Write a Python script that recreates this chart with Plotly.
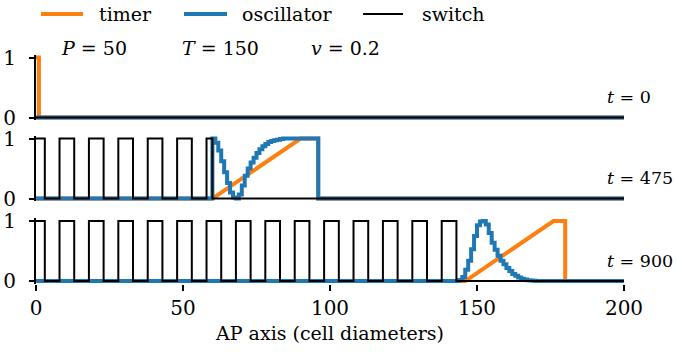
import plotly.graph_objects as go

# ---- data -------------------------------------------------------------
x_max = 200

# timer breakpoints (x, value) for each snapshot
timer_x_0 = [0, 1, 1, 200]
timer_y_0 = [1, 1, 0, 0]
timer_x_475 = [0, 60, 90, 96, 96, 200]
timer_y_475 = [0, 0, 1, 1, 0, 0]
timer_x_900 = [0, 146, 176, 180, 180, 200]
timer_y_900 = [0, 0, 1, 1, 0, 0]

# oscillator: per-cell values starting at a given cell, zero elsewhere
osc_start_475 = 60
osc_475 = [1.0, 0.93, 0.8, 0.62, 0.44, 0.26, 0.1, 0.02, 0.0, 0.07,
           0.22, 0.38, 0.5, 0.6, 0.68, 0.76, 0.82, 0.87, 0.91, 0.94,
           0.96, 0.97, 0.98, 0.99, 1.0, 1.0, 1.0, 1.0, 1.0, 1.0,
           1.0, 1.0, 1.0, 1.0, 1.0, 1.0]
osc_start_900 = 144
osc_900 = [0.02, 0.07, 0.19, 0.34, 0.53, 0.75, 0.93, 0.99, 1.0, 0.94,
           0.8, 0.64, 0.52, 0.42, 0.34, 0.28, 0.22, 0.17, 0.12, 0.09,
           0.06, 0.04, 0.025, 0.015, 0.008, 0.004]

# switch: initial value at x=0 and the positions where it toggles
switch_init_0 = 0
switch_edges_0 = []
switch_init_475 = 1
switch_edges_475 = [3, 8, 13, 18, 23, 28, 33, 38, 43, 48, 53, 58, 60]
switch_init_900 = 1
switch_edges_900 = [3, 8, 13, 18, 23, 28, 33, 38, 43, 48, 53, 58, 63, 68,
                    73, 78, 83, 88, 93, 98, 103, 108, 113, 118, 123, 128,
                    133, 138, 143]

snapshot_labels = ["0", "475", "900"]
param_labels = ["<i>P</i> = 50", "<i>T</i> = 150", "<i>v</i> = 0.2"]
series_names = ["timer", "oscillator", "switch"]
x_ticks = [0, 50, 100, 150, 200]

# ---- helpers ----------------------------------------------------------
ORANGE = "#ff7f0e"
BLUE = "#1f77b4"
BLACK = "#000000"
FONT = "DejaVu Serif"
TICK_SIZE = 20
TEXT_SIZE = 19
TIME_SIZE = 17.5


def switch_path(v0, edges):
    xs, ys, v = [0], [v0], v0
    for e in edges:
        xs += [e, e]
        ys += [v, 1 - v]
        v = 1 - v
    xs.append(x_max)
    ys.append(v)
    return xs, ys


def osc_path(start, vals):
    if not vals:
        return [0, x_max], [0, 0]
    xs = [0] + [start + i for i in range(len(vals))] + [start + len(vals), x_max]
    ys = [0] + list(vals) + [0, 0]
    return xs, ys


W, H = 677, 355
PL, PR = 36, 624          # plot area left/right in px
PT, PB = 54, 284          # plot area top/bottom in px


def px_x(p):
    return (p - PL) / (PR - PL)


def px_y(p):
    return (PB - p) / (PB - PT)


panels = [
    dict(tx=timer_x_0, ty=timer_y_0, osc=osc_path(0, []),
         sw=switch_path(switch_init_0, switch_edges_0), top=54.5, bot=120),
    dict(tx=timer_x_475, ty=timer_y_475, osc=osc_path(osc_start_475, osc_475),
         sw=switch_path(switch_init_475, switch_edges_475), top=135.5, bot=201),
    dict(tx=timer_x_900, ty=timer_y_900, osc=osc_path(osc_start_900, osc_900),
         sw=switch_path(switch_init_900, switch_edges_900), top=218, bot=283.5),
]

fig = go.Figure()
layout = dict(
    width=W, height=H,
    margin=dict(l=PL, r=W - PR, t=PT, b=H - PB, autoexpand=False),
    paper_bgcolor="white", plot_bgcolor="white",
    showlegend=False,
    font=dict(family=FONT, size=TEXT_SIZE, color="black"),
)

for i, p in enumerate(panels):
    yname = "y" if i == 0 else f"y{i + 1}"
    fig.add_trace(go.Scatter(x=p["tx"], y=p["ty"], mode="lines", name=series_names[0],
                             line=dict(color=ORANGE, width=4), xaxis="x", yaxis=yname))
    fig.add_trace(go.Scatter(x=p["osc"][0], y=p["osc"][1], mode="lines", name=series_names[1],
                             line=dict(color=BLUE, width=4, shape="hv"), xaxis="x", yaxis=yname))
    fig.add_trace(go.Scatter(x=p["sw"][0], y=p["sw"][1], mode="lines", name=series_names[2],
                             line=dict(color=BLACK, width=2), xaxis="x", yaxis=yname))
    key = "yaxis" if i == 0 else f"yaxis{i + 1}"
    layout[key] = dict(
        domain=[px_y(p["bot"]), px_y(p["top"])],
        range=[-0.04, 1.05], anchor="x",
        tickvals=[0, 1], ticktext=["0", "1"],
        ticks="outside", ticklen=5, tickwidth=1.5, tickcolor="black",
        ticklabelstandoff=9, automargin=False,
        showline=True, linecolor="black", linewidth=2,
        showgrid=False, zeroline=False, fixedrange=True,
        tickfont=dict(family=FONT, size=TICK_SIZE),
    )

layout["xaxis"] = dict(
    domain=[0, 1], range=[0, x_max], anchor="y3",
    tickvals=x_ticks, ticktext=[str(v) for v in x_ticks],
    ticks="outside", ticklen=6, tickwidth=1.5, tickcolor="black",
    showline=False, showgrid=False, zeroline=False, automargin=False,
    tickfont=dict(family=FONT, size=TICK_SIZE),
    title=dict(text="AP axis (cell diameters)", font=dict(family=FONT, size=TEXT_SIZE), standoff=8),
)
fig.update_layout(**layout)

annotations = []
# parameter text above the first panel
for txt, cx in zip(param_labels, [94, 220, 345]):
    annotations.append(dict(text=txt, xref="paper", yref="paper", x=px_x(cx), y=px_y(48),
                            xanchor="center", yanchor="middle", showarrow=False,
                            font=dict(family=FONT, size=TEXT_SIZE)))
# snapshot time labels at the right of each panel
for i, lab in enumerate(snapshot_labels):
    yname = "y" if i == 0 else f"y{i + 1}"
    annotations.append(dict(text=f"<i>t</i> = {lab}", xref="x", yref=yname, x=193.5, y=0.34,
                            xanchor="left", yanchor="middle", showarrow=False,
                            font=dict(family=FONT, size=TIME_SIZE)))

# legend row
legend_items = [(series_names[0], ORANGE, 4, 41, 83, 97),
                (series_names[1], BLUE, 4, 184, 227, 240),
                (series_names[2], BLACK, 2, 363, 403, 420)]
shapes = []
for name, col, lw, x0, x1, tx in legend_items:
    shapes.append(dict(type="line", xref="paper", yref="paper",
                       x0=px_x(x0), x1=px_x(x1), y0=px_y(14), y1=px_y(14),
                       line=dict(color=col, width=lw)))
    annotations.append(dict(text=name, xref="paper", yref="paper", x=px_x(tx), y=px_y(14),
                            xanchor="left", yanchor="middle", showarrow=False,
                            font=dict(family=FONT, size=TEXT_SIZE)))

fig.update_layout(annotations=annotations, shapes=shapes)
fig.write_html("out.html")
